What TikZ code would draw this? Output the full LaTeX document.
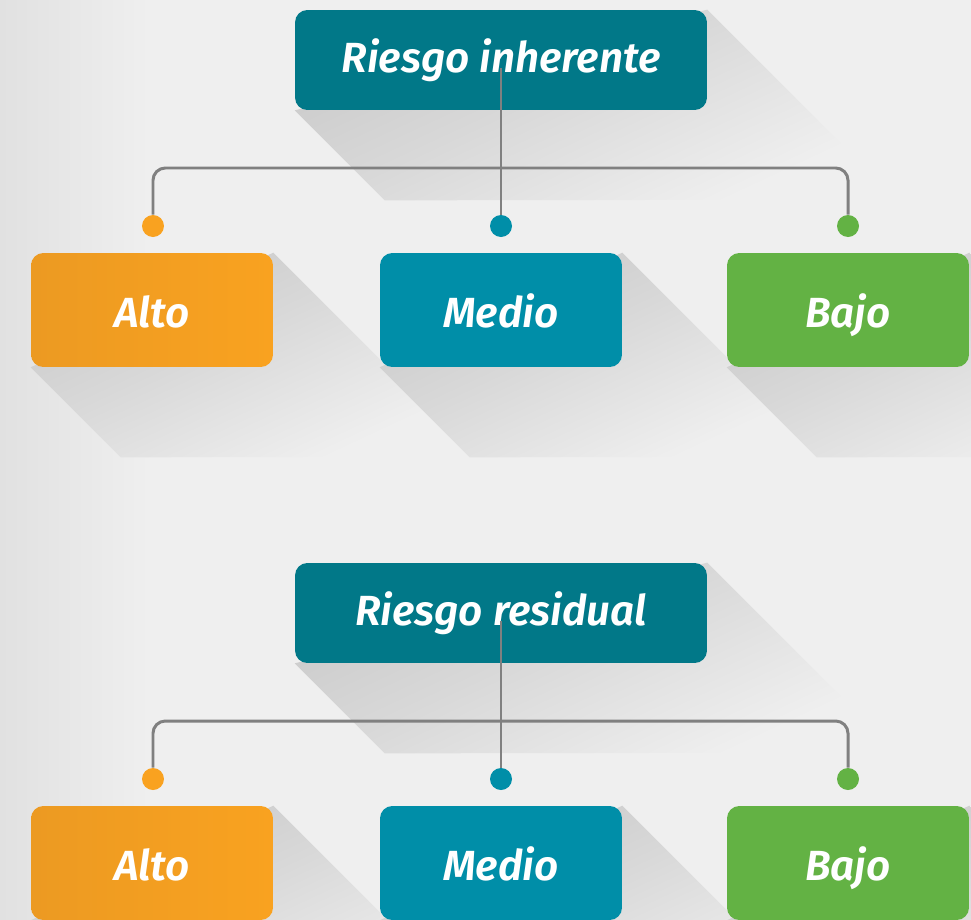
\documentclass[tikz,border=0pt]{standalone}
\usepackage{fontspec}
\setmainfont{Fira Sans}[BoldItalicFont={Fira Sans SemiBold Italic}]
\usepackage{tikz}
\usetikzlibrary{calc}
\usetikzlibrary{backgrounds}
\definecolor{bg-gray}{RGB}{239, 239, 239}
\definecolor{bg-edge}{RGB}{225, 225, 225}
\definecolor{shadow-dark}{RGB}{198, 198, 198}
\definecolor{shadow-mid}{RGB}{216, 216, 216}
\definecolor{head-teal}{RGB}{1, 120, 136}
\definecolor{alto-orange}{RGB}{249, 162, 32}
\definecolor{alto-dark}{RGB}{236, 154, 34}
\definecolor{medio-blue}{RGB}{0, 142, 168}
\definecolor{bajo-green}{RGB}{99, 178, 68}
\definecolor{link-gray}{RGB}{128, 128, 128}

\pgfdeclareverticalshading{longfade}{100bp}{color(0bp)=(bg-gray); color(28bp)=(bg-gray);
  color(55bp)=(shadow-mid); color(80bp)=(shadow-dark); color(100bp)=(shadow-dark)}

\tikzset{
  box/.style={rounded corners=7pt, text=white, inner sep=0pt,
    font=\fontsize{24}{28}\selectfont\bfseries\itshape},
  head/.style={box, fill=head-teal, minimum width=8.24cm, minimum height=2cm,
    text height=0.58cm, text depth=0.1cm},
  level/.style={box, minimum width=4.84cm, minimum height=2.28cm,
    text height=0.78cm, text depth=0.1cm},
  link/.style={draw=link-gray, line width=1.7pt, rounded corners=7pt},
  dot/.style={circle, inner sep=0pt, minimum size=0.44cm},
  longshadow/.style={shading=longfade, shading angle=25}
}

% long shadow: node, sweep length
\newcommand{\boxshadow}[2]{%
  \shade[longshadow] (#1.south west) -- ++(90,90) -- ($(#1.north east)+(#2,#2)$) -- (#1.north east) -- cycle;}

\begin{document}
\begin{tikzpicture}[x=0.02cm,y=-0.02cm]
   \useasboundingbox (0,0) rectangle (971,920);
   \begin{pgfonlayer}{background}
   \fill[bg-gray] (0,0) rectangle (971,920);
   \shade[left color=bg-edge, right color=bg-gray] (0,0) rectangle (150,920);
   \end{pgfonlayer}
   \foreach \g/\dy/\title in {1/0/Riesgo inherente, 2/553/Riesgo residual}{
   \node[head] (head\g) at (501,60+\dy) {\title};
   \node[level, left color=alto-dark, right color=alto-orange] (alto\g) at (152,310+\dy) {Alto};
   \node[level, fill=medio-blue] (medio\g) at (501,310+\dy) {Medio};
   \node[level, fill=bajo-green] (bajo\g) at (848,310+\dy) {Bajo};
   \begin{pgfonlayer}{background}
   \boxshadow{head\g}{190}
   \boxshadow{alto\g}{204}
   \boxshadow{medio\g}{204}
   \boxshadow{bajo\g}{204}
   \end{pgfonlayer}
   \node[dot, fill=alto-orange] (dalto\g) at (153,226+\dy) {};
   \node[dot, fill=medio-blue] (dmedio\g) at (501,226+\dy) {};
   \node[dot, fill=bajo-green] (dbajo\g) at (848,226+\dy) {};
   \coordinate (stem\g) at (501,68+\dy);
   \coordinate (hub\g) at (501,168+\dy);
   \draw[link] (stem\g) -- (dmedio\g.north);
   \draw[link] (dalto\g.north) |- (hub\g) -| (dbajo\g.north);
   }
\end{tikzpicture}
\end{document}
